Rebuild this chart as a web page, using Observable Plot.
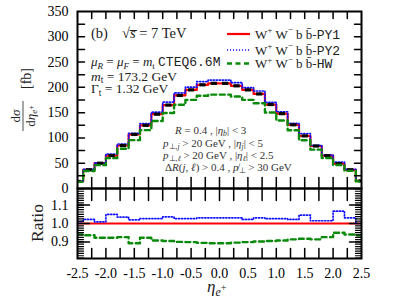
<!DOCTYPE html>
<html><head><meta charset="utf-8">
<script src="https://cdn.jsdelivr.net/npm/d3@7"></script>
<script src="https://cdn.jsdelivr.net/npm/@observablehq/plot@0.6"></script>
<style>
body{margin:0;background:#fff;}
#wrap{position:relative;width:407px;height:308px;overflow:hidden;background:#fff;}
#wrap svg{position:absolute;left:0;overflow:visible;}
</style></head><body><div id="wrap"></div>
<script>
// ---- data ----
const binCenters = [-2.5,-2.3,-2.1,-1.9,-1.7,-1.5,-1.3,-1.1,-0.9,-0.7,-0.5,-0.3,-0.1,0.1,0.3,0.5,0.7,0.9,1.1,1.3,1.5,1.7,1.9,2.1,2.3,2.5];
const py1 = [14,37,50,65,85,107,125,147,165,184,195,205,208,208,203,195,187,166,148,126,104,84,65,49,37,15];
const py2 = [14.1,37.8,50.5,68.2,88.0,109.1,128.4,151.0,170.9,189.0,200.3,211.4,214.4,214.4,209.3,199.3,192.8,170.3,151.8,128.8,108.8,85.3,66.0,52.3,38.1,15.0];
const hw  = [13.2,34.6,46.2,60.0,78.7,95.6,115.4,133.5,149.3,165.6,175.3,183.5,185.7,185.7,181.9,175.3,168.7,150.2,134.4,115.2,95.4,76.8,60.2,46.6,34.8,14.0];
const ratioPY2 = [1.010,1.022,1.009,1.049,1.035,1.020,1.027,1.027,1.036,1.027,1.027,1.031,1.031,1.031,1.031,1.022,1.031,1.026,1.026,1.022,1.046,1.015,1.015,1.067,1.031,1.000];
const ratioHW  = [0.940,0.936,0.923,0.923,0.926,0.893,0.923,0.908,0.905,0.900,0.899,0.895,0.893,0.893,0.896,0.899,0.902,0.905,0.908,0.914,0.917,0.914,0.926,0.950,0.940,0.936];
const xTickLabels = [-2.5,-2,-1.5,-1,-0.5,0,0.5,1,1.5,2,2.5];
const xTickMarks = [-2.25,-2,-1.75,-1.5,-1.25,-1,-0.75,-0.5,-0.25,0,0.25,0.5,0.75,1,1.25,1.5,1.75,2,2.25];
const yTickLabelsMain = [0,50,100,150,200,250,300,350];
const yTickMarksMain = [25,50,75,100,125,150,175,200,225,250,275,300,325];
const yTickLabelsRatio = [0.9,1.0,1.1];
const yMinorRatio = d3.range(0.8125, 1.19, 0.0125);

const rows = binCenters.map((x,i)=>({x, py1:py1[i], py2:py2[i], hw:hw[i], rPY2:ratioPY2[i], rHW:ratioHW[i]}));

const RED="#ff0000", BLUE="#1010ff", GREEN="#0a8a0a";
const DOT="1.1,1.9", DASH="5,3.5";
const SERIF="Liberation Serif", MONO="Liberation Mono";
const tickShape = {draw(ctx, l){ ctx.moveTo(0,0); ctx.lineTo(0,-l); }};
function ticks(values, axis, side, len, sw=1.5){
  const rot = {bottom:0, top:180, left:90, right:-90}[side];
  return Plot.vector(values, {[axis]: d=>d, frameAnchor: side, length: len, rotate: rot, anchor:"start", shape: tickShape, stroke:"black", strokeWidth: sw});
}
const style = {fontFamily: SERIF, fontSize: "14px", background: "transparent", overflow: "visible", color:"black"};

const main = Plot.plot({
  width: 407, height: 190, marginLeft: 77, marginRight: 46, marginTop: 11, marginBottom: 2,
  style,
  x: {domain: [-2.5, 2.5], axis: null},
  y: {domain: [0, 350], label: null},
  marks: [
    Plot.line(rows, {x:"x", y:"py1", curve:"step", stroke:RED, strokeWidth:2.2, clip:true}),
    Plot.line(rows, {x:"x", y:"py2", curve:"step", stroke:BLUE, strokeWidth:1.7, strokeDasharray:DOT, clip:true}),
    Plot.link(rows, {x1:d=>d.x-0.055, x2:d=>d.x+0.055, y1:"py1", y2:"py1", stroke:"black", strokeWidth:3.2, clip:true}),
    Plot.line(rows, {x:"x", y:"hw", curve:"step", stroke:GREEN, strokeWidth:2.4, strokeDasharray:DASH, clip:true}),
    ticks(xTickMarks, "x", "top", 7),
    ticks(xTickMarks, "x", "bottom", 11),
    ticks(yTickMarksMain, "y", "left", 7),
    ticks(yTickMarksMain, "y", "right", 7),
    Plot.frame({stroke:"black", strokeWidth:2}),
    Plot.axisY(yTickLabelsMain, {tickSize:0, tickPadding:9, fontSize:14, label:null, tickFormat:d=>String(d)})
  ]
});
main.style.top = "0px";

const ratio = Plot.plot({
  width: 407, height: 120, marginLeft: 77, marginRight: 46, marginTop: 0, marginBottom: 50,
  style,
  x: {domain: [-2.5, 2.5], label: null},
  y: {domain: [0.81, 1.19], label: null},
  marks: [
    Plot.ruleY([1], {stroke:RED, strokeWidth:2.2}),
    Plot.line(rows, {x:"x", y:"rPY2", curve:"step", stroke:BLUE, strokeWidth:1.7, strokeDasharray:DOT, clip:true}),
    Plot.line(rows, {x:"x", y:"rHW", curve:"step", stroke:GREEN, strokeWidth:2.4, strokeDasharray:DASH, clip:true}),
    ticks(xTickMarks, "x", "top", 12),
    ticks(xTickMarks, "x", "bottom", 10),
    ticks(yMinorRatio, "y", "left", 6, 1.2),
    ticks(yMinorRatio, "y", "right", 6, 1.2),
    ticks(yTickLabelsRatio, "y", "left", 12),
    ticks(yTickLabelsRatio, "y", "right", 12),
    Plot.frame({stroke:"black", strokeWidth:2}),
    Plot.axisY(yTickLabelsRatio, {tickSize:0, tickPadding:9, fontSize:14, label:null, tickFormat:d=>d.toFixed(1)}),
    Plot.axisX(xTickLabels, {tickSize:0, tickPadding:10, fontSize:14, label:null, tickFormat:d=>d.toFixed(1)})
  ]
});
ratio.style.top = "188px";

const wrap = document.getElementById("wrap");
wrap.appendChild(main);
wrap.appendChild(ratio);

// ---- rich text helper ----
function rich(svg, x, y, parts, o={}){
  const size = o.size || 13;
  const t = d3.select(svg).append("text").attr("x", x).attr("y", y)
    .attr("font-size", size).attr("font-family", SERIF).attr("fill", o.fill || "#222")
    .attr("text-anchor", o.anchor || "start").style("white-space","pre");
  if (o.transform) t.attr("transform", o.transform);
  let shift = 0;
  for (const p of parts){
    const [str, st=""] = Array.isArray(p) ? p : [p, ""];
    const tok = st.split(" ");
    let target = 0, fs = size;
    if (tok.includes("sub")) { target = size*0.22; fs = size*0.7; }
    if (tok.includes("sup")) { target = -size*0.4; fs = size*0.7; }
    if (tok.includes("ssup")) { target = -size*0.05; fs = size*0.6; }
    const s = t.append("tspan").text(str).attr("font-size", fs);
    if (target !== shift) s.attr("dy", target - shift);
    shift = target;
    if (tok.includes("i")) s.attr("font-style","italic");
    if (tok.includes("m")) s.attr("font-family", MONO);
  }
  return t;
}

// upper-left annotations
rich(main, 91, 38, [["(b)"]], {size:14.5});
rich(main, 122, 38, [["√"],["s̅","i"],[" = 7 TeV"]], {size:14.5});
rich(main, 91, 66, [["μ","i"],["R","i sub"],[" = "],["μ","i"],["F","i sub"],[" = "],["m","i"],["t","sub"],[" "],["CTEQ6.6M","m"]], {size:13});
rich(main, 91, 80.5, [["m","i"],["t","sub"],[" = 173.2 GeV"]], {size:13.5});
rich(main, 91, 93, [["Γ"],["t","sub"],[" = 1.32 GeV"]], {size:13.5});

// cuts block
rich(main, 175, 133.5, [["R","i"],[" = 0.4 , |"],["η","i"],["b","i sub"],["| < 3"]], {size:11, fill:"#333"});
rich(main, 163, 146.5, [["p","i"],["⊥,","sub"],["j","i sub"],[" > 20 GeV , |"],["η","i"],["j","i sub"],["| < 5"]], {size:11, fill:"#333"});
rich(main, 163, 159, [["p","i"],["⊥,","sub"],["ℓ","i sub"],[" > 20 GeV , |"],["η","i"],["ℓ","i sub"],["| < 2.5"]], {size:11, fill:"#333"});
rich(main, 165, 171, [["Δ"],["R","i"],["("],["j","i"],[", "],["ℓ","i"],[") > 0.4 , "],["p̸","i"],["⊥","sub"],[" > 30 GeV"]], {size:11, fill:"#333"});

// legend
const legend = [["PY1", RED, null, 2.2],["PY2", BLUE, DOT, 1.7],["HW", GREEN, DASH, 2.4]];
legend.forEach(([lab, col, dash, sw], i) => {
  const ly = [34, 50, 63.5][i];
  const l = d3.select(main).append("line").attr("x1",227).attr("x2",250).attr("y1",ly).attr("y2",ly)
    .attr("stroke",col).attr("stroke-width",sw);
  if (dash) l.attr("stroke-dasharray", dash);
  rich(main, 255, ly+4.5, [["W"],["+","sup"],[" W"],["−","sup"],[" b b̄-"],[lab,"m"]], {size:13});
});

// y label of main panel
const g = d3.select(main).append("g").attr("transform","translate(23,116) rotate(-90)");
rich(g.node(), 0, -3.5, [["d"],["σ","i"]], {size:13, anchor:"middle"});
g.append("line").attr("x1",-15).attr("x2",15).attr("y1",0).attr("y2",0).attr("stroke","#222").attr("stroke-width",0.8);
rich(g.node(), 0, 11.5, [["d"],["η","i"],["e","i sub"],["+","ssup"]], {size:13, anchor:"middle"});
rich(g.node(), 37.5, 7.5, [["[fb]"]], {size:14, anchor:"middle"});

// ratio y label
rich(ratio, 0, 0, [["Ratio"]], {size:17.5, anchor:"middle", transform:"translate(43,35) rotate(-90)"});

// x label
rich(ratio, 207, 104, [["η","i"],["e","i sub"],["+","ssup"]], {size:17});
</script></body></html>
